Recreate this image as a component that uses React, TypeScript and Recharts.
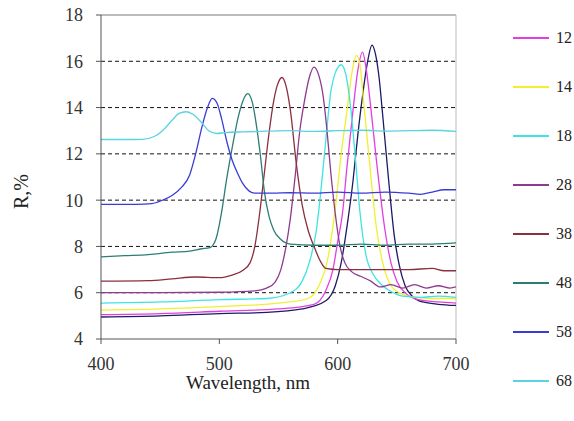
import React from 'react';
import { LineChart, Line, XAxis, YAxis, ReferenceLine } from 'recharts';

// [wavelength nm, R %]
const s12 = [[400, 5.05], [450, 5.1], [500, 5.2], [550, 5.3], [580, 5.5], [590, 6.1], [596, 7.0], [600, 8.2], [604, 9.4], [608, 11.5], [613, 13.9], [617, 15.6], [621, 16.4], [624, 15.7], [628, 14.0], [633, 11.6], [640, 8.7], [645, 7.3], [650, 6.5], [658, 5.95], [668, 5.7], [685, 5.6], [700, 5.55]];
const s14 = [[400, 5.25], [450, 5.3], [500, 5.4], [550, 5.55], [575, 5.75], [585, 6.4], [591, 7.3], [595, 8.5], [599, 10.1], [603, 12.0], [608, 13.9], [612, 15.5], [616, 16.25], [619, 15.8], [622, 14.2], [627, 11.6], [633, 8.7], [638, 7.3], [644, 6.4], [652, 6.0], [665, 5.8], [680, 5.75], [700, 5.75]];
const s18 = [[400, 5.55], [450, 5.6], [500, 5.7], [540, 5.75], [560, 6.0], [570, 6.5], [576, 7.3], [582, 8.7], [586, 10.5], [590, 12.6], [594, 14.6], [598, 15.5], [603, 15.85], [607, 15.4], [611, 14.0], [615, 11.8], [619, 9.4], [624, 7.6], [630, 6.8], [636, 6.4], [645, 6.05], [655, 5.85], [670, 5.8], [685, 5.85], [700, 5.8]];
const s28 = [[400, 6.0], [450, 6.0], [500, 6.02], [530, 6.08], [540, 6.2], [547, 6.45], [552, 7.0], [556, 7.9], [560, 9.2], [564, 11.0], [568, 13.0], [572, 14.3], [576, 15.3], [580, 15.75], [584, 15.4], [588, 14.4], [591, 13.0], [594, 11.3], [598, 9.4], [602, 8.0], [606, 7.3], [612, 6.9], [620, 6.7], [628, 6.5], [636, 6.25], [645, 6.35], [655, 6.2], [665, 6.35], [675, 6.2], [685, 6.3], [695, 6.2], [700, 6.25]];
const s38 = [[400, 6.5], [440, 6.52], [460, 6.6], [480, 6.68], [500, 6.65], [510, 6.75], [520, 6.97], [526, 7.3], [530, 8.0], [534, 9.4], [538, 11.15], [542, 12.9], [546, 14.3], [550, 15.1], [553, 15.3], [556, 15.0], [560, 13.9], [565, 11.6], [570, 9.8], [575, 8.7], [580, 8.0], [585, 7.4], [590, 7.05], [600, 7.0], [620, 7.0], [640, 7.0], [660, 7.0], [680, 7.05], [690, 6.95], [700, 6.95]];
const s48 = [[400, 7.55], [420, 7.6], [440, 7.65], [460, 7.75], [475, 7.8], [485, 7.9], [492, 7.95], [497, 8.3], [502, 9.5], [506, 10.85], [511, 12.3], [516, 13.6], [520, 14.3], [524, 14.6], [528, 14.2], [532, 13.0], [535, 11.8], [538, 10.4], [542, 9.3], [546, 8.7], [552, 8.3], [560, 8.1], [580, 8.05], [600, 8.05], [620, 8.1], [640, 8.05], [660, 8.1], [680, 8.1], [700, 8.15]];
const s58 = [[400, 9.82], [430, 9.82], [443, 9.85], [452, 10.0], [460, 10.2], [468, 10.55], [475, 11.1], [480, 12.0], [485, 13.1], [490, 14.0], [494, 14.4], [498, 14.2], [502, 13.5], [506, 12.6], [511, 11.7], [516, 11.1], [520, 10.7], [525, 10.4], [530, 10.3], [545, 10.3], [560, 10.32], [580, 10.3], [600, 10.35], [620, 10.3], [640, 10.35], [660, 10.3], [670, 10.25], [680, 10.35], [690, 10.45], [700, 10.45]];
const s68 = [[400, 12.62], [420, 12.62], [435, 12.63], [445, 12.75], [452, 13.0], [460, 13.45], [466, 13.75], [472, 13.82], [478, 13.7], [485, 13.35], [491, 13.0], [498, 12.88], [505, 12.92], [520, 12.95], [540, 12.98], [560, 13.0], [580, 12.97], [600, 13.0], [620, 13.02], [640, 12.98], [660, 13.0], [680, 13.02], [700, 12.97]];
// dark curve with no legend entry
const sNavy = [[400, 4.95], [450, 5.0], [500, 5.1], [540, 5.15], [570, 5.3], [590, 5.65], [598, 6.3], [603, 7.3], [608, 8.9], [613, 10.85], [617, 12.8], [621, 14.5], [625, 15.9], [629, 16.7], [632, 16.3], [635, 15.3], [638, 13.7], [643, 10.9], [648, 8.4], [652, 7.2], [657, 6.3], [663, 5.85], [672, 5.6], [685, 5.5], [700, 5.45]];

const seriesNames = ['12', '14', '18', '28', '38', '48', '58', '68'];
const seriesData = [s12, s14, s18, s28, s38, s48, s58, s68];
const seriesColors = ['#e23fe2', '#f0f030', '#3ee3e3', '#8e3a8e', '#8b2f3f', '#2e7d74', '#3b3bd6', '#5ad2e0'];

const xTicks = [400, 500, 600, 700];
const yTicks = [4, 6, 8, 10, 12, 14, 16, 18];
const gridValues = [6, 8, 10, 12, 14, 16];

const toPoints = (arr: number[][]) => arr.map(([x, y]) => ({ x, y }));

const font = "'Liberation Serif', 'DejaVu Serif', Times, serif";

export default function App() {
  return (
    <div style={{ position: 'absolute', left: 0, top: 0, width: 574, height: 421, background: '#fff', fontFamily: font }}>
      <LineChart width={574} height={421} margin={{ top: 15, right: 118, bottom: 32, left: 41 }} style={{ fontFamily: font }}>
        <XAxis
          type="number"
          dataKey="x"
          domain={[400, 700]}
          ticks={xTicks}
          allowDataOverflow
          height={50}
          tickSize={5}
          tickMargin={13}
          stroke="#555"
          fontFamily={font}
          fontSize={18}
          tick={{ fill: '#333' }}
        />
        <YAxis
          type="number"
          dataKey="y"
          domain={[4, 18]}
          ticks={yTicks}
          width={60}
          tickSize={5}
          tickMargin={13}
          stroke="#555"
          fontFamily={font}
          fontSize={18}
          tick={{ fill: '#333' }}
        />
        {gridValues.map((v) => (
          <ReferenceLine key={v} y={v} stroke="#111" strokeDasharray="4 3" />
        ))}
        <ReferenceLine y={18} stroke="#777" />
        <ReferenceLine x={700} stroke="#bbb" />
        <Line data={toPoints(sNavy)} dataKey="y" type="monotone" stroke="#1b1b66" strokeWidth={1.3} dot={false} legendType="none" isAnimationActive={false} />
        {seriesData.map((d, i) => (
          <Line
            key={seriesNames[i]}
            data={toPoints(d)}
            dataKey="y"
            name={seriesNames[i]}
            type="monotone"
            stroke={seriesColors[i]}
            strokeWidth={1.3}
            dot={false}
            isAnimationActive={false}
          />
        ))}
      </LineChart>

      <div style={{ position: 'absolute', left: 1, top: 180, width: 40, textAlign: 'center', transform: 'rotate(-90deg)', fontSize: 20, color: '#222', fontFamily: font }}>
        R,%
      </div>
      <div style={{ position: 'absolute', left: 148, top: 372, width: 200, textAlign: 'center', fontSize: 19, color: '#222', fontFamily: font }}>
        Wavelength, nm
      </div>

      <div style={{ position: 'absolute', left: 513, top: 13, fontFamily: font }}>
        {seriesNames.map((n, i) => (
          <div key={n} style={{ height: 49, display: 'flex', alignItems: 'center' }}>
            <div style={{ width: 36, height: 2, background: seriesColors[i] }} />
            <span style={{ marginLeft: 7, fontSize: 16, color: '#222' }}>{n}</span>
          </div>
        ))}
      </div>
    </div>
  );
}
